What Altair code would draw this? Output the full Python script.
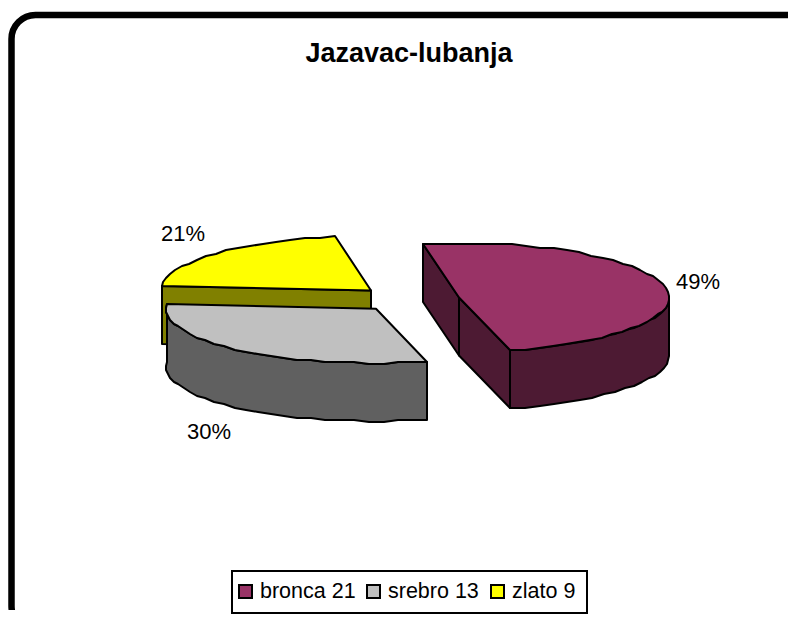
import math
import altair as alt

TITLE = "Jazavac-lubanja"
categories = ["bronca", "srebro", "zlato"]
counts = [21, 13, 9]
top_colors = ["#993366", "#C0C0C0", "#FFFF00"]
wall_colors = ["#4D1A33", "#606060", "#808000"]

# layout (page pixels)
centres = {"bronca": (459, 297.5), "srebro": (376, 308.7), "zlato": (371, 290.5)}
RX, RY, DEPTH = 210, 54.5, 58
START_DEG = -10
label_pos = {"bronca": (698, 282), "srebro": (209, 432), "zlato": (183, 234)}
legend_swatch_x = [239, 367, 491]
legend_text_x = [260, 388, 512]
OFF = 8  # page margin


def pt(c, deg, dz=0):
    a = math.radians(deg)
    return [round(c[0] + RX * math.sin(a)), round((c[1] - RY * math.cos(a)) / 2) * 2 + dz]


def arc(c, a0, a1, dz=0, step=4):
    n = max(2, int(abs(a1 - a0) / step))
    return [pt(c, a0 + (a1 - a0) * i / n, dz) for i in range(n + 1)]


def feat(coords, fill):
    ring = coords + [coords[0]]
    return {"type": "Feature", "properties": {"fill": fill},
            "geometry": {"type": "Polygon", "coordinates": [ring]}}


total = sum(counts)
angles = {}
a = START_DEG
for name, v in zip(categories, counts):
    angles[name] = (a, a + 360 * v / total)
    a += 360 * v / total

features = []
# zlato
c = centres["zlato"]
a0, a1 = angles["zlato"]
features.append(feat([list(c), pt(c, a0), pt(c, a0, DEPTH), [c[0], c[1] + DEPTH]], wall_colors[2]))
features.append(feat([list(c)] + arc(c, a0, a1), top_colors[2]))
# srebro
c = centres["srebro"]
a0, a1 = angles["srebro"]
features.append(feat(arc(c, a0, a1) + arc(c, a1, a0, DEPTH), wall_colors[1]))
features.append(feat([list(c)] + arc(c, a0, a1), top_colors[1]))
# bronca
c = centres["bronca"]
a0, a1 = angles["bronca"]
cd = [c[0], c[1] + DEPTH]
features.append(feat([list(c), pt(c, a0), pt(c, a0, DEPTH), cd], wall_colors[0]))
features.append(feat([list(c), pt(c, a1), pt(c, a1, DEPTH), cd], wall_colors[0]))
features.append(feat(arc(c, 90, a1) + arc(c, a1, 90, DEPTH), wall_colors[0]))
features.append(feat([list(c)] + arc(c, a0, a1), top_colors[0]))

pie = (
    alt.Chart(alt.Data(values=features))
    .mark_geoshape(stroke="black", strokeWidth=2, strokeJoin="round")
    .encode(fill=alt.Fill("properties.fill:N", scale=None))
    .project(type="identity", scale=1, translate=[-OFF, -OFF])
)


def px(v):
    return alt.value(v - OFF)


frame = alt.Chart(alt.Data(values=[{"a": 0}])).mark_rect(
    fill="white", stroke="black", strokeWidth=6.5, cornerRadius=24, clip=True
).encode(x=px(11.5), x2=px(812), y=px(15), y2=px(630))

title = alt.Chart(alt.Data(values=[{"t": TITLE}])).mark_text(
    font="Liberation Sans", fontSize=27, fontWeight="bold", color="black", align="center", baseline="middle"
).encode(text="t:N", x=px(409), y=px(54))

percent_rows = [
    {"t": f"{round(100 * v / total)}%", "x": label_pos[n][0] - OFF, "y": label_pos[n][1] - OFF}
    for n, v in zip(categories, counts)
]
labels = [
    alt.Chart(alt.Data(values=[r])).mark_text(
        font="Liberation Sans", fontSize=22, color="black", align="center", baseline="middle"
    ).encode(text="t:N", x=alt.value(r["x"]), y=alt.value(r["y"]))
    for r in percent_rows
]

legend_box = alt.Chart(alt.Data(values=[{"a": 0}])).mark_rect(
    fill="white", stroke="black", strokeWidth=2
).encode(x=px(232), x2=px(587), y=px(571), y2=px(613))

legend_items = []
for n, v, col, sx, tx in zip(categories, counts, top_colors, legend_swatch_x, legend_text_x):
    legend_items.append(
        alt.Chart(alt.Data(values=[{"a": 0}])).mark_rect(fill=col, stroke="black", strokeWidth=2)
        .encode(x=px(sx), x2=px(sx + 13), y=px(585), y2=px(598))
    )
    legend_items.append(
        alt.Chart(alt.Data(values=[{"t": f"{n} {v}"}])).mark_text(
            font="Liberation Sans", fontSize=21.5, color="black", align="left", baseline="middle"
        ).encode(text="t:N", x=px(tx), y=px(592))
    )

chart = alt.layer(frame, title, pie, *labels, legend_box, *legend_items).properties(
    width=780, height=602, padding=0, background="white",
    view=alt.ViewConfig(stroke=None),
)
chart.save("out.html", embed_options={"renderer": "svg", "actions": False})
